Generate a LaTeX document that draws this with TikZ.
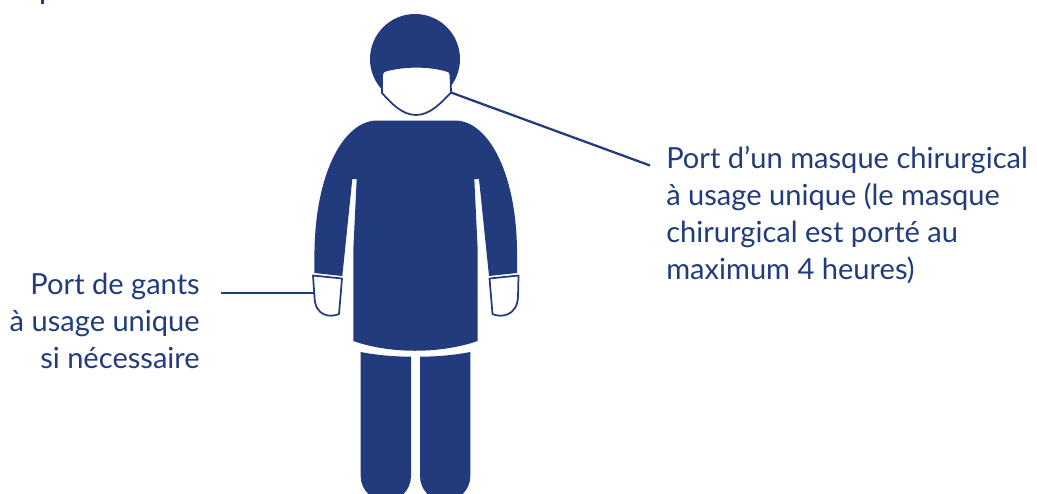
\documentclass[tikz,border=0pt]{standalone}
\usepackage{fontspec}
\setmainfont{Lato}
\usetikzlibrary{positioning}
\definecolor{navy}{RGB}{34,59,124}
\tikzset{
  shapefill/.style={fill=navy,draw=none},
  cover/.style={fill=white,draw=navy,line width=1.3pt,line join=round},
  leader/.style={draw=navy,line width=1.7pt},
  caption/.style={text=navy,font=\fontsize{21.8}{27.75}\selectfont,inner sep=0pt}
}
\begin{document}
\begin{tikzpicture}[x=0.75pt,y=-0.75pt]
\useasboundingbox (0,0) rectangle (1037,493);
\clip (0,0) rectangle (1037,493);
\fill[shapefill] (415,59) circle (45);
\draw[cover] (382,75) .. controls (382,72) and (384,71) .. (386,70.5) .. controls (405,65.5) and (428,65.5) .. (446,70.5) .. controls (449,71) and (450.5,72) .. (450.5,75) -- (451,92.5) .. controls (441,103) and (430,115) .. (416,115) .. controls (402,115) and (391,103) .. (382,93) -- cycle;
\fill[shapefill] (377,120.5) -- (455,120.5) .. controls (487,120.5) and (516,170) .. (517,250) -- (517,273) -- (489,276) -- (479,179) -- (474.3,179) -- (477.7,250) -- (477.7,341) .. controls (440,354) and (390,354) .. (353.3,341) -- (353.3,250) -- (356.7,179) -- (352.3,179) -- (342.3,276) -- (314.3,273) -- (314.5,250) .. controls (316,170) and (345,120.5) .. (377,120.5) -- cycle;
\draw[cover] (313,275.5) -- (342,278.5) -- (339,314) .. controls (330,318) and (315,316) .. (314.5,297) -- cycle;
\draw[cover] (518.5,275.5) -- (489.5,278.5) -- (492.5,314) .. controls (501,318) and (517,316) .. (518,297) -- cycle;
\fill[shapefill] (360.7,352) .. controls (376,355) and (394,356.7) .. (411,356.7) -- (411,476) .. controls (411,490) and (400,501) .. (386,501) .. controls (372,501) and (360.7,490) .. (360.7,476) -- cycle;
\fill[shapefill] (470.3,352) .. controls (455,355) and (437,356.7) .. (420,356.7) -- (420,476) .. controls (420,490) and (431,501) .. (445,501) .. controls (459,501) and (470.3,490) .. (470.3,476) -- cycle;
\node[caption,anchor=north west,align=left] (masquelabel) at (666,146) {Port d’un masque chirurgical\\à usage unique (le masque\\chirurgical est porté au\\maximum 4 heures)};
\node[caption,anchor=north east,align=right] (gantslabel) at (200,273) {Port de gants\\à usage unique\\si nécessaire};
\coordinate (masqueend) at (451.5,92.7);
\coordinate (masquefree) at (650,165.5);
\coordinate (gantend) at (314,293);
\coordinate (gantfree) at (221,293);
\draw[leader] (masqueend) -- (masquefree);
\draw[leader] (gantfree) -- (gantend);
\coordinate (tickup) at (42.5,0);
\coordinate (tickdown) at (42.5,4);
\draw[leader] (tickup) -- (tickdown);
\end{tikzpicture}
\end{document}
